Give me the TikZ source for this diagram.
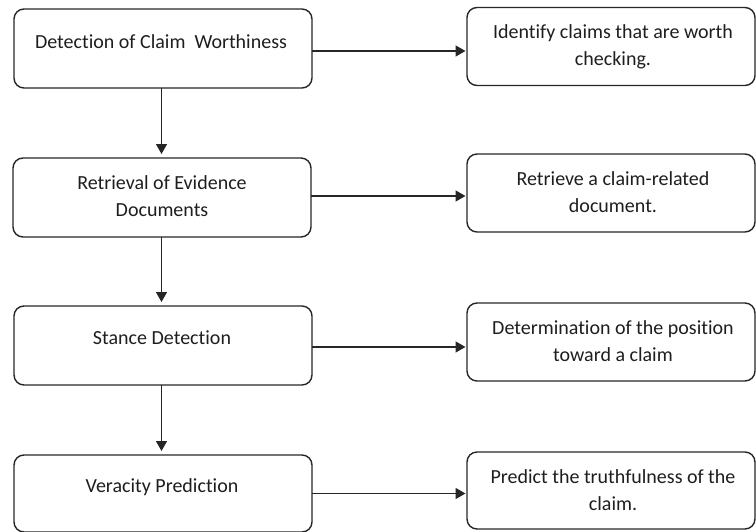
\documentclass[tikz,border=0pt]{standalone}
\usepackage{fontspec}
\setmainfont{Carlito}[Ligatures=NoCommon]
\usetikzlibrary{arrows.meta}
\definecolor{lc}{HTML}{262626}
\definecolor{tc}{HTML}{1E1E1E}
\tikzset{
  box/.style={draw=lc, line width=1.4pt, rounded corners=10pt, inner sep=0pt, outer sep=0pt},
  lbox/.style={box, minimum width=298pt, minimum height=79pt},
  rbox/.style={box, minimum width=288pt, minimum height=78pt},
  txt/.style={anchor=base, align=center, inner sep=0pt, text=tc, font=\fontsize{20}{27}\selectfont},
  arr/.style={draw=lc, line width=1.4pt, -{Triangle[length=10pt,width=11pt]}},
  varr/.style={arr, shorten >=4pt},
  harr/.style={arr, shorten >=1.5pt}
}
\begin{document}
\begin{tikzpicture}[x=1pt,y=-1pt]
\useasboundingbox (0,0) rectangle (756,531);
% left column
\node[lbox] (a1) at (163,48.5) {};
\node[lbox] (a2) at (162,197.5) {};
\node[lbox] (a3) at (163,345.5) {};
\node[lbox, minimum height=77pt] (a4) at (163,493.5) {};
% right column
\node[rbox] (b1) at (611,46.5) {};
\node[rbox] (b2) at (611,193) {};
\node[rbox] (b3) at (611,342) {};
\node[rbox, minimum height=77pt] (b4) at (611,490.5) {};
% texts
\node[txt] (ta1) at (161,48.5) {Detection of Claim\ \ Worthiness};
\node[txt] (ta2) at (162,216.5) {Retrieval of Evidence\\Documents};
\node[txt] (ta3) at (162,344.5) {Stance Detection};
\node[txt] (ta4) at (162,492.5) {Veracity Prediction};
\node[txt] (tb1) at (613,65.5) {Identify claims that are worth\\checking.};
\node[txt] (tb2) at (613,212.5) {Retrieve a claim-related\\document.};
\node[txt] (tb3) at (613,361.5) {Determination of the position\\toward a claim};
\node[txt] (tb4) at (613,510.5) {Predict the truthfulness of the\\claim.};
% vertical arrows
\draw[varr] ([xshift=-1.5pt]a1.south) -- ([xshift=-1.5pt]a1.south |- a2.north);
\draw[varr] ([xshift=-0.5pt]a2.south) -- ([xshift=-0.5pt]a2.south |- a3.north);
\draw[varr] ([xshift=-1.5pt]a3.south) -- ([xshift=-1.5pt]a3.south |- a4.north);
% horizontal arrows
\draw[harr] ([yshift=-2.5pt]a1.east) -- ([yshift=-2.5pt]a1.east -| b1.west);
\draw[harr] ([yshift=1.5pt]a2.east) -- ([yshift=1.5pt]a2.east -| b2.west);
\draw[harr] ([yshift=-1.5pt]a3.east) -- ([yshift=-1.5pt]a3.east -| b3.west);
\draw[harr] (a4.east) -- (a4.east -| b4.west);
\end{tikzpicture}
\end{document}
